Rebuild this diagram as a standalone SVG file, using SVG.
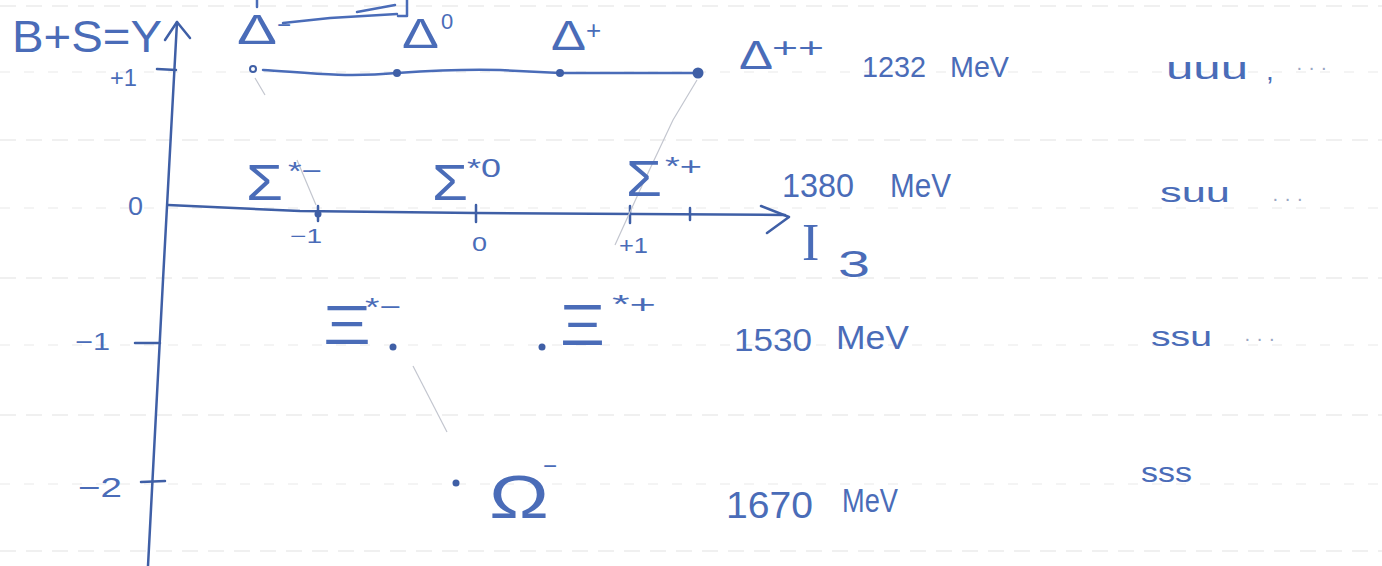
<svg xmlns="http://www.w3.org/2000/svg" width="1382" height="566" viewBox="0 0 1382 566">
<style>
.ink{fill:#4a6cb8;font-family:"Liberation Sans","DejaVu Sans",sans-serif;}
.serif{fill:#4a6cb8;font-family:"Liberation Serif","DejaVu Serif",serif;}
.axis{stroke:#3f5fa6;stroke-width:2.5;fill:none;stroke-linecap:round;stroke-linejoin:round}
.stroke{stroke:#4a6cb8;stroke-width:2.5;fill:none;stroke-linecap:round;stroke-linejoin:round}
.faint{stroke:#c3c6cf;stroke-width:1.2;fill:none}
.rule{stroke:#f0f0f0;stroke-width:2;stroke-dasharray:16 10}
.rule2{stroke:#f4f4f4;stroke-width:2;stroke-dasharray:10 14}
.dot{fill:#3f5fa6}
.dim{fill:#9aa6c4}
</style>
<rect width="1382" height="566" fill="#ffffff"/>
<g id="paper-rules">
<line class="rule" x1="0" y1="6" x2="1382" y2="6"/>
<line class="rule" x1="0" y1="140" x2="1382" y2="140"/>
<line class="rule" x1="0" y1="278" x2="1382" y2="278"/>
<line class="rule" x1="0" y1="415" x2="1382" y2="415"/>
<line class="rule" x1="0" y1="551" x2="1382" y2="551"/>
<line class="rule2" x1="0" y1="72" x2="1382" y2="72"/>
<line class="rule2" x1="0" y1="208" x2="1382" y2="208"/>
<line class="rule2" x1="0" y1="345" x2="1382" y2="345"/>
<line class="rule2" x1="0" y1="484" x2="1382" y2="484"/>
</g>
<g id="axes">
<path class="axis" d="M148,566 L163,280 L177,22"/>
<path class="axis" d="M165,40 L177,22 L190,38"/>
<path class="axis" d="M157,69 L176,70"/>
<path class="axis" d="M135,343 L160,343"/>
<path class="axis" d="M141,482 L165,481"/>
<path class="axis" d="M168,205 L300,211 L476,213 L785,215"/>
<path class="axis" d="M761,206 L789,217 L767,233"/>
<path class="axis" d="M318,206 L318,221"/>
<path class="axis" d="M476,205 L476,222"/>
<path class="axis" d="M630,206 L630,223"/>
<path class="axis" d="M690,208 L690,220"/>
<circle class="dot" cx="318" cy="214" r="3.5"/>
<text class="ink" x="12" y="52" font-size="44" textLength="150" lengthAdjust="spacingAndGlyphs">B+S=Y</text>
<text class="ink" x="110" y="86" font-size="24" textLength="27" lengthAdjust="spacingAndGlyphs">+1</text>
<text class="ink" x="128" y="215" font-size="26" textLength="15" lengthAdjust="spacingAndGlyphs">0</text>
<text class="ink" x="75" y="350" font-size="24" textLength="35" lengthAdjust="spacingAndGlyphs">−1</text>
<text class="ink" x="78" y="497" font-size="28" textLength="44" lengthAdjust="spacingAndGlyphs">−2</text>
<text class="ink" x="290" y="243" font-size="20" textLength="32" lengthAdjust="spacingAndGlyphs">−1</text>
<text class="ink" x="472" y="251" font-size="20" textLength="15" lengthAdjust="spacingAndGlyphs">0</text>
<text class="ink" x="619" y="253" font-size="22" textLength="29" lengthAdjust="spacingAndGlyphs">+1</text>
<text class="serif" x="802" y="260" font-size="52">I</text>
<text class="ink" x="838" y="277" font-size="36" textLength="32" lengthAdjust="spacingAndGlyphs">3</text>
</g>
<g id="connectors">
<path class="stroke" d="M263,70 C300,72 340,78 397,73 C440,70 470,69 500,70 L560,73 L698,73"/>
<path class="stroke" d="M283,23 L330,18 L397,14"/>
<path class="stroke" d="M357,12 L395,5"/>
<path class="stroke" d="M398,16 L407,16 L407,0"/>
<path class="stroke" d="M257,0 L257,7"/>
<path class="faint" d="M697,80 L673,120 L640,190 L615,245"/>
<path class="faint" d="M255,78 L265,95"/>
<path class="faint" d="M297,160 L316,205"/>
<path class="faint" d="M413,366 L447,432"/>
</g>
<g id="delta-minus">
<circle cx="253" cy="69" r="3" fill="#fff" stroke="#3f5fa6" stroke-width="2"/>
<text class="ink" x="237" y="44" font-size="42" textLength="40" lengthAdjust="spacingAndGlyphs">Δ</text>
<text class="ink" x="277" y="33" font-size="24">−</text>
</g>
<g id="delta-zero">
<circle class="dot" cx="397" cy="73" r="4"/>
<text class="ink" x="402" y="48" font-size="42" textLength="37" lengthAdjust="spacingAndGlyphs">Δ</text>
<text class="ink" x="441" y="29" font-size="22">0</text>
</g>
<g id="delta-plus">
<circle class="dot" cx="560" cy="73" r="4"/>
<text class="ink" x="551" y="50" font-size="42" textLength="35" lengthAdjust="spacingAndGlyphs">Δ</text>
<text class="ink" x="586" y="39" font-size="26">+</text>
</g>
<g id="delta-plusplus">
<circle class="dot" cx="698" cy="73" r="5.5"/>
<text class="ink" x="739" y="69" font-size="40" textLength="34" lengthAdjust="spacingAndGlyphs">Δ</text>
<text class="ink" x="772" y="57" font-size="28" textLength="52" lengthAdjust="spacingAndGlyphs">++</text>
<text class="ink" x="862" y="77" font-size="30" textLength="64" lengthAdjust="spacingAndGlyphs">1232</text>
<text class="ink" x="950" y="77" font-size="30" textLength="59" lengthAdjust="spacingAndGlyphs">MeV</text>
<text class="ink" x="1166" y="79" font-size="32" textLength="82" lengthAdjust="spacingAndGlyphs">uuu</text>
<text class="ink" x="1266" y="80" font-size="28">,</text>
<text class="dim" x="1296" y="74" font-size="20" font-family="Liberation Sans, sans-serif">·  ·  ·</text>
</g>
<g id="sigma-minus">
<text class="ink" x="246" y="200" font-size="50" textLength="37" lengthAdjust="spacingAndGlyphs">Σ</text>
<text class="ink" x="288" y="180" font-size="26" textLength="34" lengthAdjust="spacingAndGlyphs">*−</text>
</g>
<g id="sigma-zero">
<text class="ink" x="432" y="200" font-size="50" textLength="36" lengthAdjust="spacingAndGlyphs">Σ</text>
<text class="ink" x="467" y="177" font-size="26" textLength="34" lengthAdjust="spacingAndGlyphs">*0</text>
</g>
<g id="sigma-plus">
<text class="ink" x="626" y="196" font-size="50" textLength="36" lengthAdjust="spacingAndGlyphs">Σ</text>
<text class="ink" x="665" y="175" font-size="26" textLength="37" lengthAdjust="spacingAndGlyphs">*+</text>
<text class="ink" x="782" y="197" font-size="34" textLength="72" lengthAdjust="spacingAndGlyphs">1380</text>
<text class="ink" x="890" y="197" font-size="34" textLength="61" lengthAdjust="spacingAndGlyphs">MeV</text>
<text class="ink" x="1160" y="202" font-size="28" textLength="70" lengthAdjust="spacingAndGlyphs">suu</text>
<text class="dim" x="1272" y="205" font-size="20" font-family="Liberation Sans, sans-serif">·  ·  ·</text>
</g>
<g id="xi-minus">
<circle class="dot" cx="393" cy="347" r="3.5"/>
<text class="ink" x="323" y="344" font-size="56" textLength="48" lengthAdjust="spacingAndGlyphs">Ξ</text>
<text class="ink" x="365" y="316" font-size="26" textLength="36" lengthAdjust="spacingAndGlyphs">*−</text>
</g>
<g id="xi-plus">
<circle class="dot" cx="542" cy="347" r="3.5"/>
<text class="ink" x="560" y="345" font-size="58" textLength="45" lengthAdjust="spacingAndGlyphs">Ξ</text>
<text class="ink" x="612" y="313" font-size="26" textLength="44" lengthAdjust="spacingAndGlyphs">*+</text>
<text class="ink" x="734" y="351" font-size="32" textLength="78" lengthAdjust="spacingAndGlyphs">1530</text>
<text class="ink" x="836" y="349" font-size="34" textLength="73" lengthAdjust="spacingAndGlyphs">MeV</text>
<text class="ink" x="1151" y="346" font-size="28" textLength="61" lengthAdjust="spacingAndGlyphs">ssu</text>
<text class="dim" x="1244" y="345" font-size="20" font-family="Liberation Sans, sans-serif">·  ·  ·</text>
</g>
<g id="omega-minus">
<circle class="dot" cx="456" cy="483" r="3.5"/>
<text class="ink" x="489" y="518" font-size="62" textLength="60" lengthAdjust="spacingAndGlyphs">Ω</text>
<text class="ink" x="543" y="474" font-size="24">−</text>
<text class="ink" x="726" y="518" font-size="36" textLength="87" lengthAdjust="spacingAndGlyphs">1670</text>
<text class="ink" x="842" y="512" font-size="34" textLength="56" lengthAdjust="spacingAndGlyphs">MeV</text>
<text class="ink" x="1141" y="482" font-size="28" textLength="51" lengthAdjust="spacingAndGlyphs">sss</text>
</g>
</svg>
